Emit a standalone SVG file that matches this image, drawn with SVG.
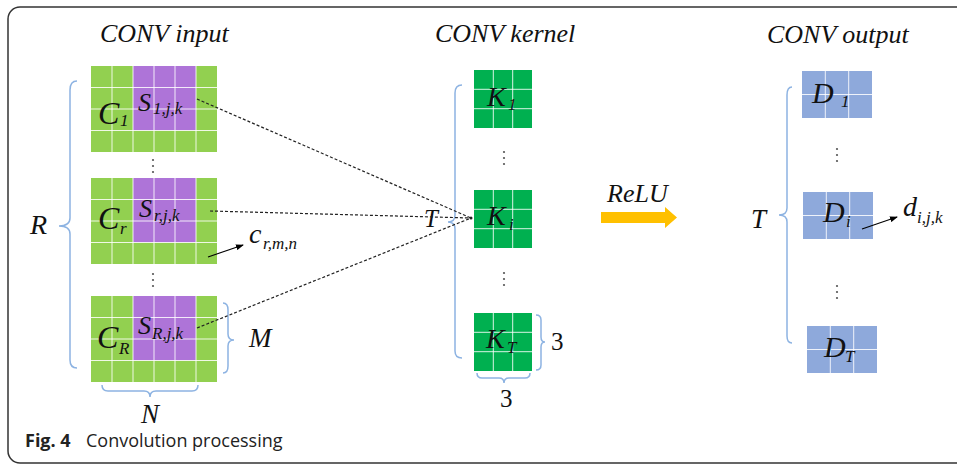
<svg xmlns="http://www.w3.org/2000/svg" width="957" height="465" viewBox="0 0 957 465">
<defs>
<marker id="ah" markerWidth="8" markerHeight="6" refX="7" refY="3" orient="auto" markerUnits="userSpaceOnUse">
<path d="M0,0 L8,3 L0,6 Z" fill="#000"/>
</marker>
</defs>
<style>
.t{font-family:"Liberation Serif","Times New Roman",serif;font-style:italic;fill:#111}
.n{font-family:"Liberation Serif","Times New Roman",serif;fill:#111}
.ig{fill:#92D050}
.pu{fill:#AE74D8}
.kg{fill:#00B050}
.bl{fill:#8EA9DB}
.gl{stroke:#fff;stroke-width:1;fill:none;opacity:0.85}
.br{stroke:#8DB3E2;stroke-width:1.5;fill:none}
.ds{stroke:#222;stroke-width:1.2;stroke-dasharray:3 2;fill:none}
.dot{fill:#555}
.cap{font-family:"Open Sans","Noto Sans",sans-serif;font-size:18px;fill:#222}
</style>
<rect x="8" y="7" width="970" height="456" rx="12" fill="#fff" stroke="#333" stroke-width="1.5"/>

<text class="t" x="100" y="42" font-size="26">CONV input</text>
<text class="t" x="435" y="42" font-size="26">CONV kernel</text>
<text class="t" x="767" y="43" font-size="26">CONV output</text>

<g id="input1">
<rect class="ig" x="91" y="66" width="126" height="86"/>
<rect class="pu" x="133" y="66" width="63" height="64.5"/>
<path class="gl" d="M112,66V152M133,66V152M154,66V152M175,66V152M196,66V152M91,87.5H217M91,109H217M91,130.5H217"/>
<text class="t" x="98" y="124" font-size="32">C</text>
<text class="t" x="120" y="126" font-size="17">1</text>
<text class="t" x="138" y="111" font-size="26">S</text>
<text class="t" x="153" y="114" font-size="17">1,j,k</text>
</g>
<g id="input2">
<rect class="ig" x="91" y="178" width="126" height="86"/>
<rect class="pu" x="133" y="178" width="63" height="64.5"/>
<path class="gl" d="M112,178V264M133,178V264M154,178V264M175,178V264M196,178V264M91,199.5H217M91,221H217M91,242.5H217"/>
<text class="t" x="98" y="229" font-size="32">C</text>
<text class="t" x="120" y="234" font-size="17">r</text>
<text class="t" x="139" y="217" font-size="26">S</text>
<text class="t" x="154" y="221" font-size="17">r,j,k</text>
</g>
<g id="input3">
<rect class="ig" x="91" y="296" width="126" height="86"/>
<rect class="pu" x="133" y="296" width="63" height="64.5"/>
<path class="gl" d="M112,296V382M133,296V382M154,296V382M175,296V382M196,296V382M91,317.5H217M91,339H217M91,360.5H217"/>
<text class="t" x="97" y="348" font-size="32">C</text>
<text class="t" x="119" y="354" font-size="17">R</text>
<text class="t" x="138" y="334" font-size="26">S</text>
<text class="t" x="152" y="339" font-size="17">R,j,k</text>
</g>

<g id="kernel1">
<rect class="kg" x="474" y="70" width="58" height="58"/>
<path class="gl" d="M493.3,70V128M512.7,70V128M474,89.3H532M474,108.7H532"/>
<text class="t" x="487" y="106" font-size="28">K</text>
<text class="t" x="508" y="110" font-size="17">1</text>
</g>
<g id="kerneli">
<rect class="kg" x="474" y="190" width="58" height="58"/>
<path class="gl" d="M493.3,190V248M512.7,190V248M474,209.3H532M474,228.7H532"/>
<text class="t" x="487" y="225" font-size="28">K</text>
<text class="t" x="509" y="230" font-size="17">i</text>
</g>
<g id="kernelT">
<rect class="kg" x="474" y="313" width="58" height="58"/>
<path class="gl" d="M493.3,313V371M512.7,313V371M474,332.3H532M474,351.7H532"/>
<text class="t" x="486" y="348" font-size="28">K</text>
<text class="t" x="507" y="353" font-size="17">T</text>
</g>

<g id="output1">
<rect class="bl" x="802" y="71" width="70" height="47"/>
<path class="gl" d="M825.3,71V118M848.7,71V118M802,94.5H872"/>
<text class="t" x="812" y="103" font-size="30">D</text>
<text class="t" x="841" y="107" font-size="17">1</text>
</g>
<g id="outputi">
<rect class="bl" x="803" y="192" width="70" height="47"/>
<path class="gl" d="M826.3,192V239M849.7,192V239M803,215.5H873"/>
<text class="t" x="823" y="222" font-size="30">D</text>
<text class="t" x="846" y="227" font-size="17">i</text>
</g>
<g id="outputT">
<rect class="bl" x="807" y="326" width="70" height="47"/>
<path class="gl" d="M830.3,326V373M853.7,326V373M807,349.5H877"/>
<text class="t" x="824" y="357" font-size="30">D</text>
<text class="t" x="845" y="362" font-size="17">T</text>
</g>

<g id="dots">
<circle class="dot" cx="153" cy="160" r="1.1"/><circle class="dot" cx="153" cy="166" r="1.1"/><circle class="dot" cx="153" cy="172" r="1.1"/>
<circle class="dot" cx="153" cy="274" r="1.1"/><circle class="dot" cx="153" cy="280" r="1.1"/><circle class="dot" cx="153" cy="286" r="1.1"/>
<circle class="dot" cx="504" cy="152" r="1.1"/><circle class="dot" cx="504" cy="158" r="1.1"/><circle class="dot" cx="504" cy="164" r="1.1"/>
<circle class="dot" cx="504" cy="273" r="1.1"/><circle class="dot" cx="504" cy="279" r="1.1"/><circle class="dot" cx="504" cy="285" r="1.1"/>
<circle class="dot" cx="837" cy="149" r="1.1"/><circle class="dot" cx="837" cy="155" r="1.1"/><circle class="dot" cx="837" cy="161" r="1.1"/>
<circle class="dot" cx="837" cy="286" r="1.1"/><circle class="dot" cx="837" cy="292" r="1.1"/><circle class="dot" cx="837" cy="298" r="1.1"/>
</g>

<g id="braces">
<path class="br" d="M77,81 Q70,81 70,90 L70,218 Q70,226 59,226 Q70,226 70,234 L70,360 Q70,368 77,368"/>
<path class="br" d="M223,303 Q228,303 228,310 L228,334 Q228,340 234,340 Q228,340 228,346 L228,366 Q228,373 223,373"/>
<path class="br" d="M102,385 Q102,391 108,391 L144,391 Q150,391 150,397 Q150,391 156,391 L192,391 Q198,391 198,385"/>
<path class="br" d="M462,85 Q455,85 455,93 L455,215 Q455,222 448,222 Q455,222 455,229 L455,351 Q455,358 462,358"/>
<path class="br" d="M536,315 Q541,315 541,320 L541,337 Q541,342 545,342 Q541,342 541,347 L541,365 Q541,370 536,370"/>
<path class="br" d="M477,373 Q477,378 482,378 L499,378 Q504,378 504,383 Q504,378 509,378 L525,378 Q530,378 530,373"/>
<path class="br" d="M792,87 Q787,87 787,95 L787,208 Q787,215 779,215 Q787,215 787,222 L787,336 Q787,343 792,343"/>
</g>

<text class="t" x="30" y="234" font-size="28">R</text>
<text class="t" x="249" y="347" font-size="27">M</text>
<text class="t" x="141" y="423" font-size="27">N</text>
<text class="t" x="424" y="227" font-size="25">T</text>
<text class="t" x="751" y="228" font-size="27">T</text>
<text class="n" x="551" y="350" font-size="25">3</text>
<text class="n" x="500" y="407" font-size="25">3</text>
<text class="t" x="249" y="243" font-size="28">c</text>
<text class="t" x="263" y="249" font-size="17">r,m,n</text>
<text class="t" x="903" y="216" font-size="28">d</text>
<text class="t" x="917" y="223" font-size="17">i,j,k</text>
<text class="t" x="607" y="202" font-size="26">ReLU</text>

<g id="connectors">
<path class="ds" d="M197,99 L471,218"/>
<path class="ds" d="M210,211 L471,218"/>
<path class="ds" d="M197,328 L471,218"/>
<circle cx="471" cy="218" r="1.5" fill="#222"/>
<path d="M208,257 L243,245" stroke="#000" stroke-width="1.1" marker-end="url(#ah)"/>
<path d="M862,229 L897,217" stroke="#000" stroke-width="1.1" marker-end="url(#ah)"/>
<path d="M601,212 H665 V207 L677,217.5 L665,228 V223 H601 Z" fill="#FFC000"/>
</g>

<text class="cap" x="25" y="447" font-weight="bold">Fig. 4</text>
<text class="cap" x="86" y="447">Convolution processing</text>
</svg>
